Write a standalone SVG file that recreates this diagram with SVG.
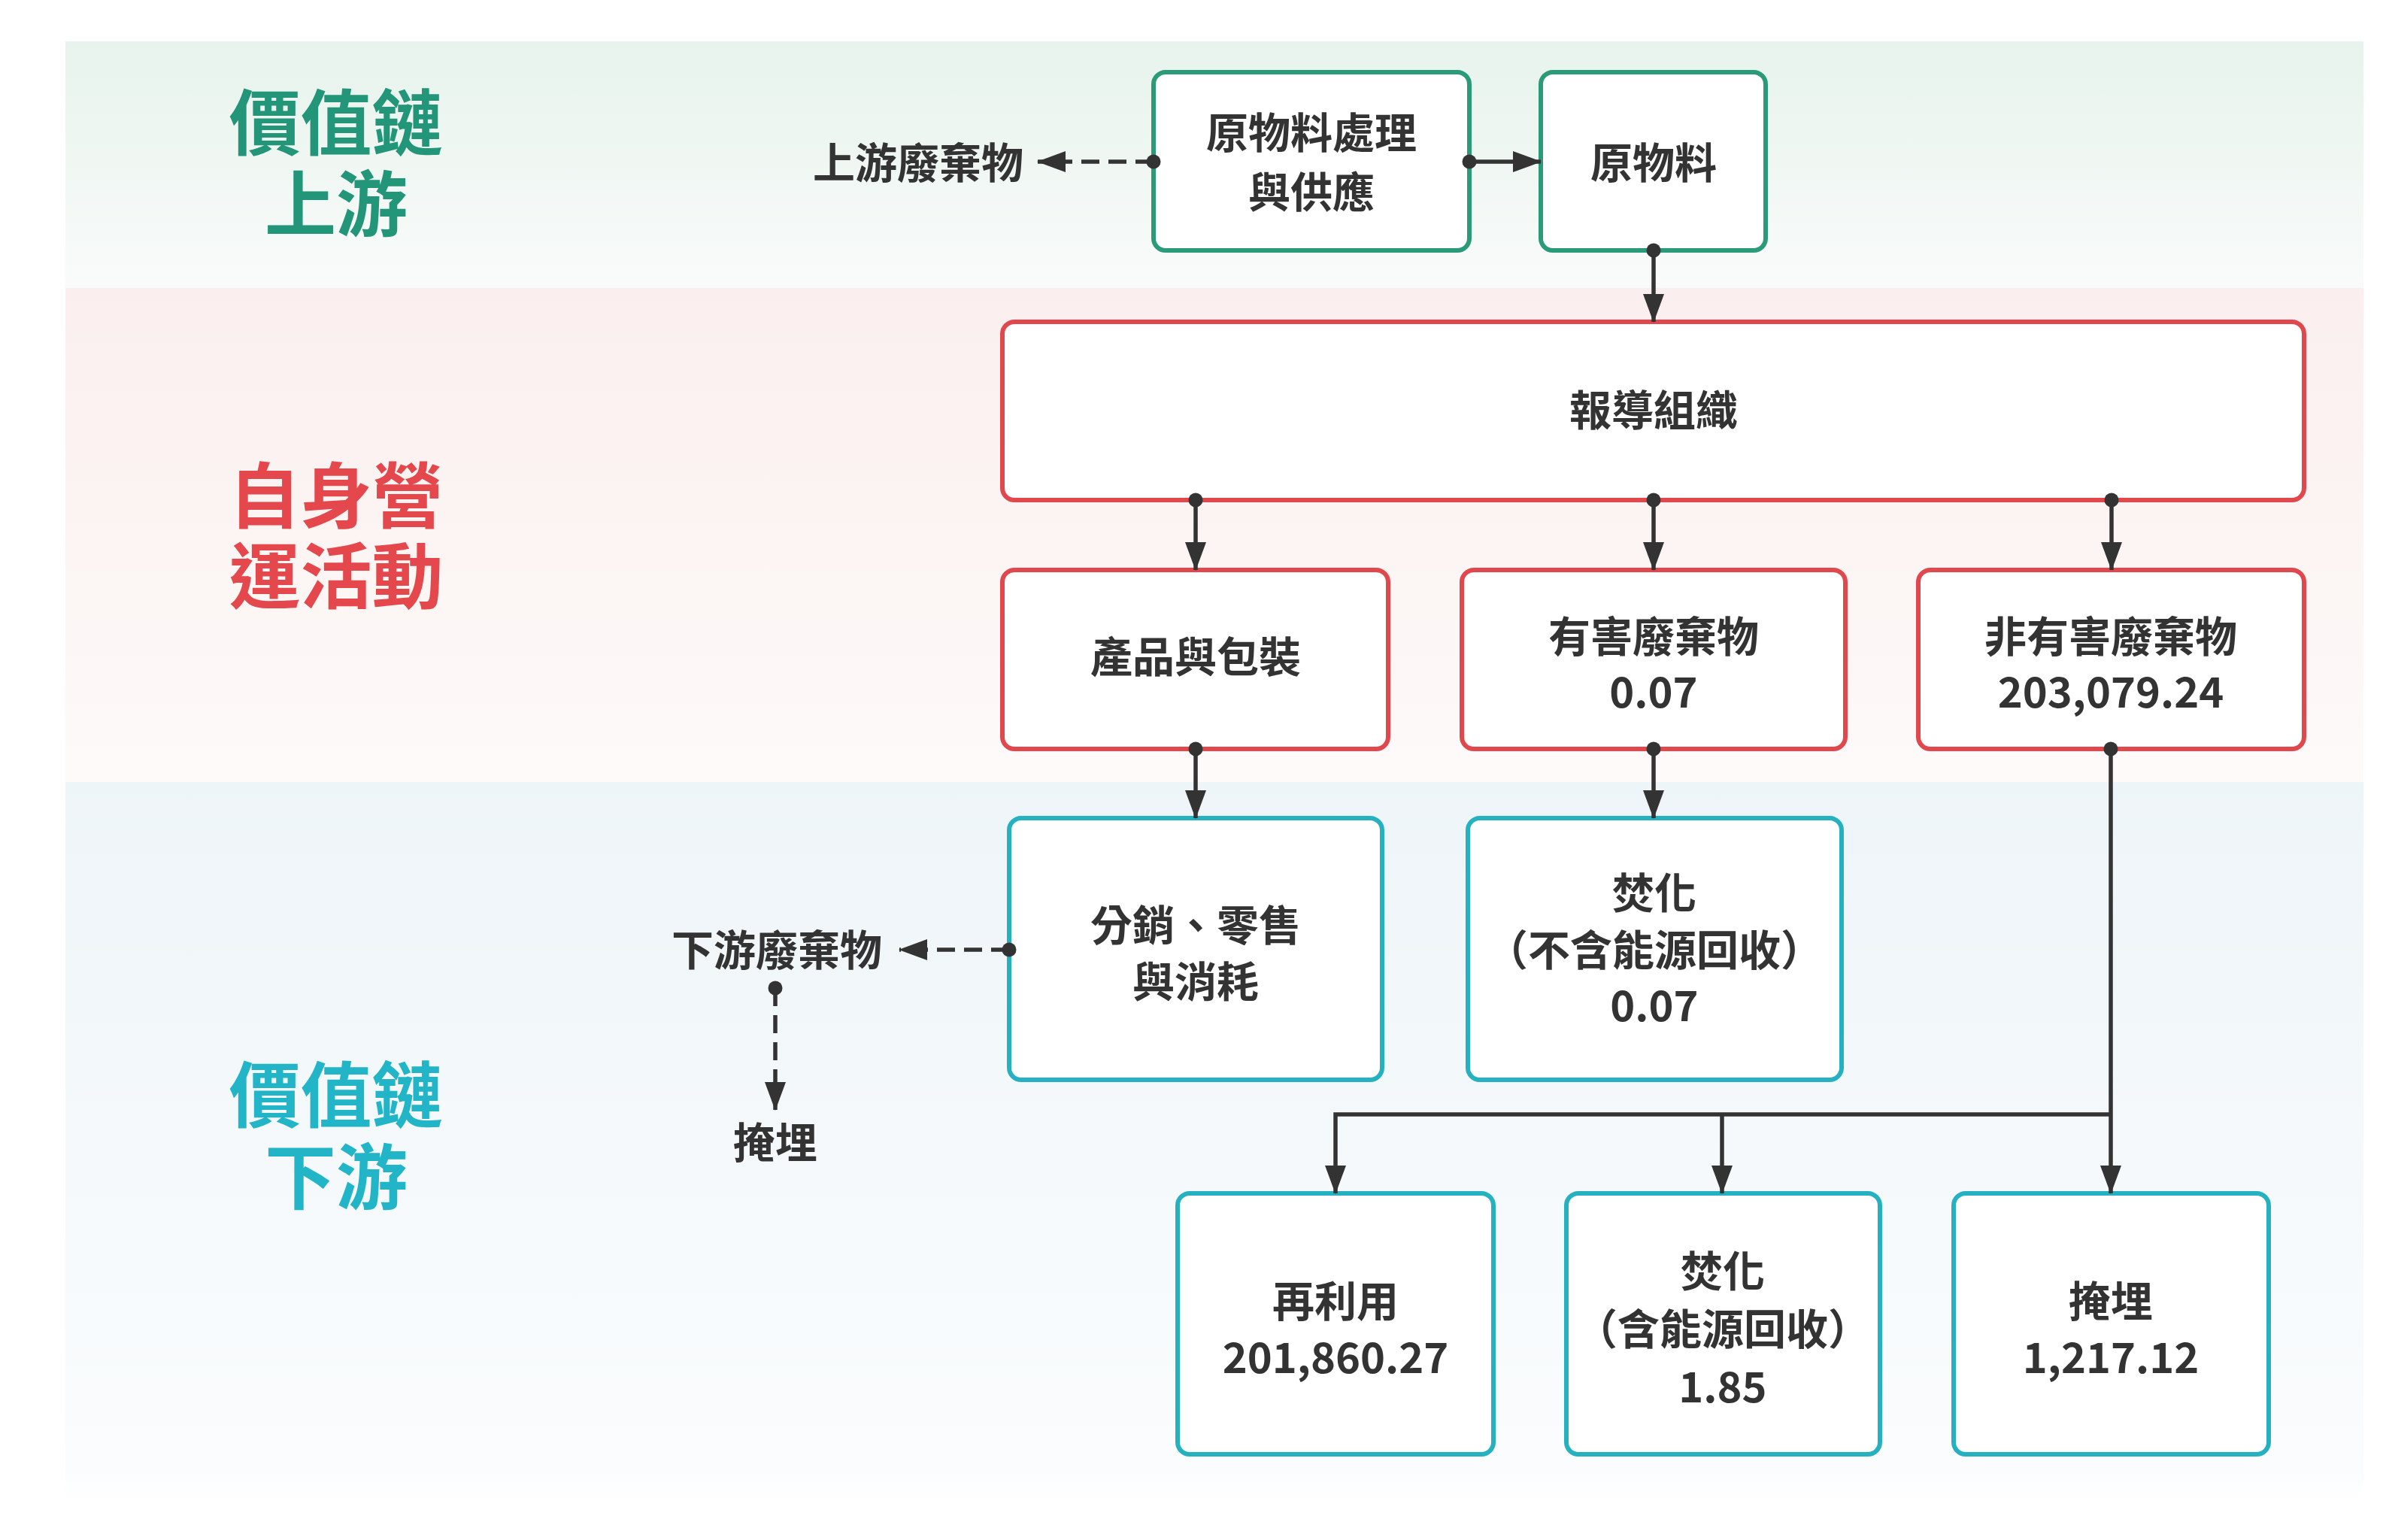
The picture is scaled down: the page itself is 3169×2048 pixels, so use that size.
<svg xmlns="http://www.w3.org/2000/svg" width="3169" height="2048" viewBox="0 0 3169 2048">
<defs>
<linearGradient id="gUp" x1="0" y1="0" x2="0" y2="1"><stop offset="0" stop-color="#e7f3ec"/><stop offset="1" stop-color="#f9fbfa"/></linearGradient>
<linearGradient id="gOwn" x1="0" y1="0" x2="0" y2="1"><stop offset="0" stop-color="#faefee"/><stop offset="1" stop-color="#fdfaf9"/></linearGradient>
<linearGradient id="gDown" x1="0" y1="0" x2="0" y2="1"><stop offset="0" stop-color="#eef5f8"/><stop offset="0.95" stop-color="#fafcfd"/><stop offset="1" stop-color="#ffffff"/></linearGradient>
<marker id="arr" viewBox="0 0 38 28" refX="37" refY="14" markerWidth="38" markerHeight="28" markerUnits="userSpaceOnUse" orient="auto"><path d="M0,0 L38,14 L0,28 Z" fill="#333"/></marker>
<marker id="dot" viewBox="0 0 20 20" refX="10" refY="10" markerWidth="20" markerHeight="20" markerUnits="userSpaceOnUse" orient="auto"><circle cx="10" cy="10" r="9.5" fill="#333"/></marker>
<style>
.box{fill:#fff;stroke-width:6}
.up{stroke:#2a9a78}
.own{stroke:#e0484e}
.down{stroke:#26b1c1}
.t{font-family:"Noto Sans CJK TC","Noto Sans CJK SC",sans-serif;font-weight:700;font-size:56px;fill:#333;text-anchor:middle}
.h{font-family:"Noto Sans CJK TC","Noto Sans CJK SC",sans-serif;font-weight:700;font-size:95px;text-anchor:middle}
.c{fill:none;stroke:#333;stroke-width:5.5}
.d{stroke-dasharray:24 12}
</style>
</defs>
<rect width="3169" height="2048" fill="#fff"/>
<g id="bands">
<rect x="87" y="55" width="3056" height="328" fill="url(#gUp)"/>
<rect x="87" y="383" width="3056" height="657" fill="url(#gOwn)"/>
<rect x="87" y="1040" width="3056" height="960" fill="url(#gDown)"/>
</g>
<g id="band-labels">
<text class="h" fill="#23967a" x="447" y="199">價值鏈</text>
<text class="h" fill="#23967a" x="447" y="307">上游</text>
<text class="h" fill="#e4484d" x="447" y="695">自身營</text>
<text class="h" fill="#e4484d" x="447" y="802">運活動</text>
<text class="h" fill="#22b5c8" x="447" y="1492">價值鏈</text>
<text class="h" fill="#22b5c8" x="447" y="1601">下游</text>
</g>
<g id="upstream-waste"><text class="t" x="1221" y="237">上游廢棄物</text></g>
<g id="raw-processing">
<rect class="box up" x="1534" y="96" width="420" height="237" rx="16"/>
<text class="t" x="1744" y="197">原物料處理</text>
<text class="t" x="1744" y="276">與供應</text>
</g>
<g id="raw-material">
<rect class="box up" x="2049" y="96" width="299" height="237" rx="16"/>
<text class="t" x="2199" y="237">原物料</text>
</g>
<g id="reporting-org">
<rect class="box own" x="1333" y="428" width="1731" height="237" rx="16"/>
<text class="t" x="2199" y="566">報導組織</text>
</g>
<g id="products">
<rect class="box own" x="1333" y="758" width="513" height="238" rx="16"/>
<text class="t" x="1590" y="894">產品與包裝</text>
</g>
<g id="hazardous">
<rect class="box own" x="1944" y="758" width="510" height="238" rx="16"/>
<text class="t" x="2199" y="867">有害廢棄物</text>
<text class="t" x="2199" y="941">0.07</text>
</g>
<g id="non-hazardous">
<rect class="box own" x="2551" y="758" width="513" height="238" rx="16"/>
<text class="t" x="2807" y="867">非有害廢棄物</text>
<text class="t" x="2807" y="941">203,079.24</text>
</g>
<g id="distribution">
<rect class="box down" x="1342" y="1088" width="496" height="348" rx="16"/>
<text class="t" x="1590" y="1251">分銷、零售</text>
<text class="t" x="1590" y="1326">與消耗</text>
</g>
<g id="incineration-no-recovery">
<rect class="box down" x="1952" y="1088" width="497" height="348" rx="16"/>
<text class="t" x="2200" y="1208">焚化</text>
<text class="t" x="2200" y="1284">（不含能源回收）</text>
<text class="t" x="2200" y="1358">0.07</text>
</g>
<g id="downstream-waste"><text class="t" x="1033" y="1284">下游廢棄物</text></g>
<g id="landfill-downstream"><text class="t" x="1031" y="1540">掩埋</text></g>
<g id="reuse">
<rect class="box down" x="1566" y="1587" width="420" height="347" rx="16"/>
<text class="t" x="1776" y="1751">再利用</text>
<text class="t" x="1776" y="1826">201,860.27</text>
</g>
<g id="incineration-recovery">
<rect class="box down" x="2083" y="1587" width="417" height="347" rx="16"/>
<text class="t" x="2291" y="1711">焚化</text>
<text class="t" x="2291" y="1788">（含能源回收）</text>
<text class="t" x="2291" y="1865">1.85</text>
</g>
<g id="landfill">
<rect class="box down" x="2598" y="1587" width="419" height="347" rx="16"/>
<text class="t" x="2807" y="1751">掩埋</text>
<text class="t" x="2807" y="1826">1,217.12</text>
</g>
<g id="connectors">
<line class="c d" x1="1534" y1="215" x2="1380" y2="215" marker-start="url(#dot)" marker-end="url(#arr)"/>
<line class="c" x1="1954" y1="215" x2="2049" y2="215" marker-start="url(#dot)" marker-end="url(#arr)"/>
<line class="c" x1="2199" y1="333" x2="2199" y2="428" marker-start="url(#dot)" marker-end="url(#arr)"/>
<line class="c" x1="1590" y1="665" x2="1590" y2="758" marker-start="url(#dot)" marker-end="url(#arr)"/>
<line class="c" x1="2199" y1="665" x2="2199" y2="758" marker-start="url(#dot)" marker-end="url(#arr)"/>
<line class="c" x1="2808" y1="665" x2="2808" y2="758" marker-start="url(#dot)" marker-end="url(#arr)"/>
<line class="c" x1="1590" y1="996" x2="1590" y2="1088" marker-start="url(#dot)" marker-end="url(#arr)"/>
<line class="c" x1="2199" y1="996" x2="2199" y2="1088" marker-start="url(#dot)" marker-end="url(#arr)"/>
<line class="c" x1="2807" y1="996" x2="2807" y2="1587" marker-start="url(#dot)" marker-end="url(#arr)"/>
<path class="c" d="M2807,1482 H1776 V1587" marker-end="url(#arr)"/>
<line class="c" x1="2290" y1="1482" x2="2290" y2="1587" marker-end="url(#arr)"/>
<line class="c d" x1="1342" y1="1263" x2="1196" y2="1263" marker-start="url(#dot)" marker-end="url(#arr)"/>
<line class="c d" x1="1031" y1="1314" x2="1031" y2="1476" marker-start="url(#dot)" marker-end="url(#arr)"/>
</g>
</svg>
